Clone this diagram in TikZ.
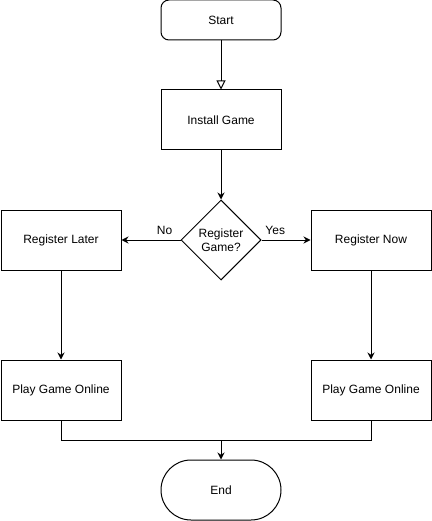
\documentclass[tikz,border=0pt]{standalone}
\usepackage{fontspec}
\setmainfont{Liberation Sans}
\usetikzlibrary{arrows.meta,positioning,shapes.geometric}

\begin{document}
\begin{tikzpicture}[
  x=1pt, y=-1pt,
  >={Stealth[length=7pt,width=7pt]},
  box/.style={draw, line width=1pt, minimum height=60pt, minimum width=120pt, align=center, font=\fontsize{12}{14}\selectfont},
  term/.style={box, rounded corners=8pt, minimum height=40pt},
  stadium/.style={box, rounded corners=30pt},
  decide/.style={draw, line width=1pt, diamond, aspect=1, inner sep=0pt, minimum size=80pt, align=center, font=\fontsize{12}{14}\selectfont},
  arr/.style={->, line width=1pt},
  lbl/.style={font=\fontsize{12}{14}\selectfont, inner sep=4.5pt}
]
\useasboundingbox (0,0) rectangle (431,521);

% main column
\node[term] (start) at (221,20) {Start};
\node[box] (install) at (221,120) {Install Game};
\node[decide] (ask) at (221,240) {Register\\Game?};

% branches
\node[box] (later) at (61,240) {Register Later};
\node[box] (now) at (371,240) {Register Now};
\node[box] (playL) at (61,390) {Play Game Online};
\node[box] (playR) at (371,390) {Play Game Online};

\coordinate (join) at (221,440);
\node[stadium] (stop) at (221,490) {End};

\draw[line width=1pt, -{Triangle[open,length=9pt,width=9pt]}] (start) -- (install);
\draw[arr] (install) -- (ask);
\draw[arr] (ask) -- node[lbl, above, pos=0.27]{No} (later);
\draw[arr] (ask) -- node[lbl, above, pos=0.28]{Yes} (now);
\draw[arr] (later) -- (playL);
\draw[arr] (now) -- (playR);
\draw[line width=1pt] (playL) |- (join);
\draw[line width=1pt] (playR) |- (join);
\draw[arr] (join) -- (stop);

\end{tikzpicture}
\end{document}
